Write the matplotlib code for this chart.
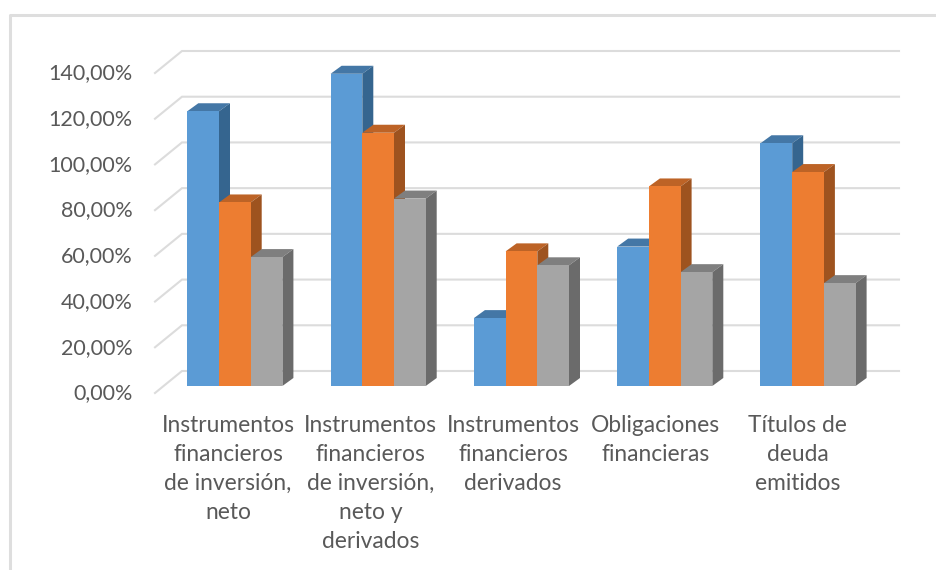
import numpy as np
import matplotlib
matplotlib.use('Agg')
import matplotlib.pyplot as plt
from matplotlib.lines import Line2D

plt.rcParams['font.family'] = ['Lato', 'DejaVu Sans']

categorias = ['Instrumentos\nfinancieros\nde inversión,\nneto',
              'Instrumentos\nfinancieros\nde inversión,\nneto y\nderivados',
              'Instrumentos\nfinancieros\nderivados',
              'Obligaciones\nfinancieras',
              'Títulos de\ndeuda\nemitidos']
serie1 = [120.2, 136.6, 29.7, 61.0, 106.2]
serie2 = [80.3, 110.8, 58.9, 87.3, 93.6]
serie3 = [56.4, 82.0, 52.8, 49.8, 45.0]
yticks = [0, 20, 40, 60, 80, 100, 120, 140]
yticklabels = ['0,00%', '20,00%', '40,00%', '60,00%', '80,00%', '100,00%', '120,00%', '140,00%']

W, H = 937, 570
ppx = 143.3        # pixels per category
ppy = 320 / 140    # pixels per percentage point
x0, y0 = 163.2, 386  # pixel position of the bar origin

# colours: front, top, side
col1 = ('#5B9BD5', '#4477A6', '#35658F')
col2 = ('#ED7D31', '#BD6326', '#9E531F')
col3 = ('#A5A5A5', '#7F7F7F', '#6B6B6B')
gridc = '#DCDCDC'
textc = '#595959'

# depth of the bars and of the floor, in data units
bar_dx, bar_dy = 11 / ppx, 8 / ppy
front_dx, front_dy = (155 - x0) / ppx, -7 / ppy
back_dx, back_dy = (182 - x0) / ppx, 15 / ppy
xend = (899 - x0) / ppx
bw = 31.7 / ppx

fig = plt.figure(figsize=(W / 100, H / 100), dpi=100, facecolor='w')

# outer chart frame, only top and left are visible
fig.add_artist(Line2D([10.5 / W, 10.5 / W, 1], [0, 1 - 15 / H, 1 - 15 / H], color='#DEDEDE', lw=2.2))

xl, xr = 155, 899
yb, yt = 393, 51
ax = fig.add_axes([xl / W, 1 - yb / H, (xr - xl) / W, (yb - yt) / H])
ax.set_xlim((xl - x0) / ppx, (xr - x0) / ppx)
ax.set_ylim((y0 - yb) / ppy, (y0 - yt) / ppy)
for s in ax.spines.values():
    s.set_visible(False)

# back wall gridlines with the diagonal on the left wall
for v in yticks:
    ax.plot([front_dx, back_dx, xend], [v + front_dy, v + back_dy, v + back_dy],
            color=gridc, lw=1.5, zorder=1, clip_on=False, solid_joinstyle='miter')

# bars: left to right so each front covers the side of the previous one
z = 2
for i in range(len(categorias)):
    left = i + 0.5 - 1.5 * bw
    for k, (vals, col) in enumerate(zip([serie1, serie2, serie3], [col1, col2, col3])):
        xa = left + k * bw
        xb = xa + bw
        v = vals[i]
        ax.fill([xa, xb, xb + bar_dx, xa + bar_dx], [v, v, v + bar_dy, v + bar_dy],
                color=col[1], lw=0, zorder=z)
        ax.fill([xb, xb + bar_dx, xb + bar_dx, xb], [0, bar_dy, v + bar_dy, v],
                color=col[2], lw=0, zorder=z)
        ax.bar(xa, v, bw, align='edge', color=col[0], lw=0, zorder=z + 1)
        z += 2

ax.set_yticks(np.array(yticks) + front_dy + 0.7)
ax.set_yticklabels(yticklabels, fontsize=15.5, color=textc)
ax.set_xticks(0.453 + np.arange(len(categorias)) * 0.994)
ax.set_xticklabels(categorias, fontsize=16.4, color=textc, linespacing=1.47, va='top', ha='center')
ax.tick_params(axis='y', length=0, pad=16)
ax.tick_params(axis='x', length=0, pad=16)

plt.savefig('out.png', dpi=100, facecolor='w', edgecolor='w')
